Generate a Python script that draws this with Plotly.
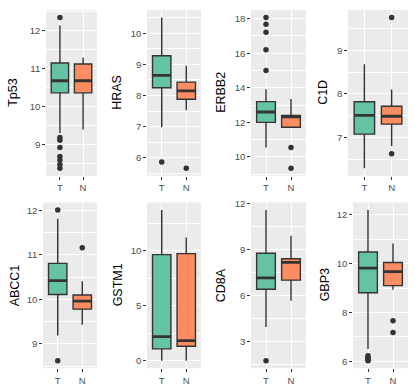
import plotly.graph_objects as go

genes = ["Tp53", "HRAS", "ERBB2", "C1D", "ABCC1", "GSTM1", "CD8A", "GBP3"]
groups = ["T", "N"]

# tumour (T) box statistics per gene
t_lower = [9.30, 6.98, 10.55, 6.30, 9.19, 0.00, 3.92, 6.50]
t_q1 = [10.36, 8.25, 12.00, 7.08, 10.11, 1.08, 6.39, 8.81]
t_median = [10.68, 8.65, 12.60, 7.51, 10.42, 2.19, 7.13, 9.82]
t_q3 = [11.15, 9.28, 13.20, 7.82, 10.81, 9.64, 8.74, 10.48]
t_upper = [12.14, 10.51, 13.92, 8.68, 11.81, 13.70, 11.56, 12.20]
t_outliers = [
    [12.35, 9.18, 9.11, 8.92, 8.68, 8.59, 8.47, 8.37],
    [5.86],
    [18.06, 17.67, 17.20, 16.19, 15.00],
    [],
    [12.01, 8.62],
    [],
    [1.72],
    [6.22, 6.15, 6.10, 6.05, 6.02],
]

# normal (N) box statistics per gene
n_lower = [9.39, 7.53, 11.68, 6.81, 9.43, 0.00, 5.63, 8.93]
n_q1 = [10.36, 7.88, 11.72, 7.31, 9.78, 1.32, 6.98, 9.10]
n_median = [10.68, 8.15, 12.32, 7.49, 9.96, 1.83, 8.14, 9.67]
n_q3 = [11.12, 8.43, 12.40, 7.72, 10.10, 9.73, 8.38, 10.05]
n_upper = [11.29, 8.96, 13.35, 8.10, 10.41, 11.20, 9.88, 10.83]
n_outliers = [
    [],
    [5.66],
    [10.55, 9.35],
    [9.75, 6.63],
    [11.16],
    [],
    [],
    [7.66, 7.18],
]

y_dtick = [1, 1, 2, 1, 1, 5, 3, 2]

GREEN = "#66C2A5"
ORANGE = "#FC8D62"
DARK = "#333333"
FONT = "Liberation Sans, Arial, sans-serif"

W, H = 415, 390
panel_x = [(46, 97), (147, 201), (251, 306), (348, 408),
           (43, 97), (147, 201), (251, 306), (353, 408)]
panel_y = [(5, 173)] * 4 + [(200, 368)] * 4
title_x = [13, 117, 221, 323, 15, 118, 221, 325]

BOXW = 0.75

fig = go.Figure()
layout = {}
annotations = []

for i, gene in enumerate(genes):
    sfx = "" if i == 0 else str(i + 1)
    xa, ya = "x" + sfx, "y" + sfx

    stats = [
        (1, t_lower[i], t_q1[i], t_median[i], t_q3[i], t_upper[i], t_outliers[i], GREEN),
        (2, n_lower[i], n_q1[i], n_median[i], n_q3[i], n_upper[i], n_outliers[i], ORANGE),
    ]
    all_vals = []
    for pos, lo, q1, med, q3, up, outs, col in stats:
        all_vals += [lo, up] + outs
        fig.add_trace(go.Box(
            x=[pos], q1=[q1], median=[med], q3=[q3],
            lowerfence=[lo], upperfence=[up],
            width=BOXW, fillcolor=col, line=dict(color=DARK, width=1.4),
            whiskerwidth=0, boxpoints=False, showlegend=False,
            hoverinfo="skip", xaxis=xa, yaxis=ya))
        fig.add_trace(go.Scatter(
            x=[pos - BOXW / 2, pos + BOXW / 2], y=[med, med], mode="lines",
            line=dict(color=DARK, width=2.8), showlegend=False,
            hoverinfo="skip", xaxis=xa, yaxis=ya))
        if outs:
            fig.add_trace(go.Scatter(
                x=[pos] * len(outs), y=outs, mode="markers",
                marker=dict(color=DARK, size=5.5), showlegend=False,
                hoverinfo="skip", xaxis=xa, yaxis=ya))

    lo_v, hi_v = min(all_vals), max(all_vals)
    pad = (hi_v - lo_v) * 0.05
    x0, x1 = panel_x[i]
    y0, y1 = panel_y[i]
    d = y_dtick[i]

    layout["xaxis" + sfx] = dict(
        domain=[x0 / W, x1 / W], anchor=ya, range=[0.4, 2.6],
        tickmode="array", tickvals=[1, 2], ticktext=groups,
        showgrid=True, gridcolor="white", gridwidth=1.4, zeroline=False,
        ticks="outside", ticklen=2.75, tickwidth=1.1, tickcolor=DARK,
        tickfont=dict(family=FONT, size=9.6, color="#4D4D4D"),
        showline=False, fixedrange=True)
    layout["yaxis" + sfx] = dict(
        domain=[1 - y1 / H, 1 - y0 / H], anchor=xa,
        range=[lo_v - pad, hi_v + pad], tick0=0, dtick=d,
        showgrid=True, gridcolor="white", gridwidth=1.4, zeroline=False,
        minor=dict(tick0=0, dtick=d / 2, showgrid=True, gridcolor="white",
                   gridwidth=0.7, ticks=""),
        ticks="outside", ticklen=2.75, tickwidth=1.1, tickcolor=DARK,
        tickfont=dict(family=FONT, size=9.6, color="#4D4D4D"),
        showline=False, fixedrange=True)

    annotations.append(dict(
        text=gene, xref="paper", yref="paper",
        x=title_x[i] / W, y=1 - (y0 + y1) / 2 / H,
        xanchor="center", yanchor="middle", textangle=-90, showarrow=False,
        font=dict(family=FONT, size=12.5, color="black")))

fig.update_layout(
    width=W, height=H,
    margin=dict(l=0, r=0, t=0, b=0),
    paper_bgcolor="white", plot_bgcolor="#EBEBEB",
    boxmode="overlay",
    annotations=annotations,
    **layout)

# drop the page's default body margin so the figure sits at the window origin
fig.write_html("out.html", config={"displayModeBar": False},
               post_script="document.body.style.margin='0';")
